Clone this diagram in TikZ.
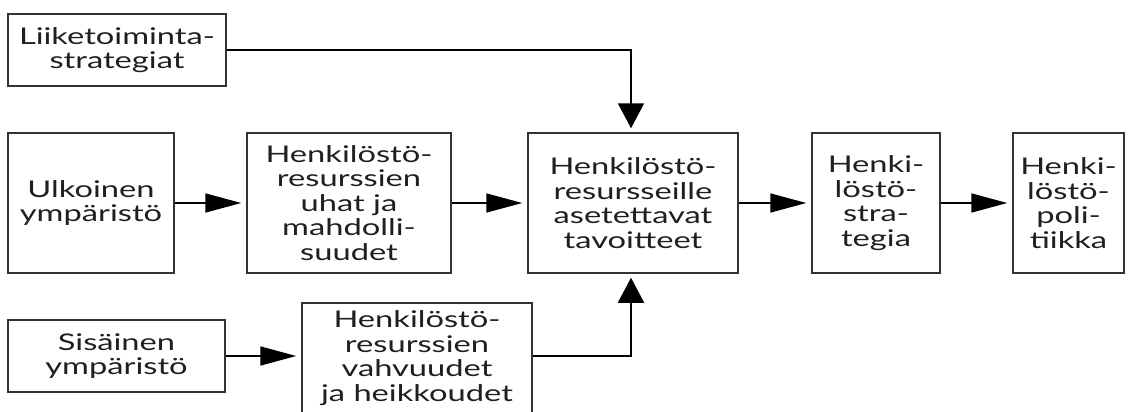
\documentclass[tikz,border=0pt]{standalone}
\usepackage{fontspec}
\usetikzlibrary{arrows.meta}
\newfontfamily\dfont[FakeStretch=1.42]{Lato}
\definecolor{boxline}{gray}{0.2}
\definecolor{txt}{gray}{0.12}
\tikzset{
  box/.style={draw=boxline, line width=1.5pt, inner sep=0pt, align=center,
    text=txt, font=\dfont\fontsize{23}{24.6}\selectfont},
  harrow/.style={draw=black, line width=1.6pt, -{Triangle[length=36pt,width=19pt]}, shorten >=5pt},
  varrow/.style={draw=black, line width=1.9pt, -{Triangle[length=25pt,width=26pt]}, shorten >=4pt},
}
\begin{document}
\begin{tikzpicture}[x=1pt,y=-1pt]
\useasboundingbox (0,0) rectangle (1129,412);
\fill[white] (0,0) rectangle (1129,412);
\node[box, minimum width=218pt, minimum height=72pt] (liik) at (117,50) {Liiketoiminta-\\strategiat};
\node[box, minimum width=166pt, minimum height=140pt] (ulk) at (91,203) {Ulkoinen\\ympäristö};
\node[box, minimum width=204pt, minimum height=140pt] (uhat) at (349,203) {Henkilöstö-\\resurssien\\uhat ja\\mahdolli-\\suudet};
\node[box, minimum width=210pt, minimum height=140pt] (keski) at (633,203) {Henkilöstö-\\resursseille\\asetettavat\\tavoitteet};
\node[box, minimum width=128pt, minimum height=140pt] (strat) at (876,203) {Henki-\\löstö-\\stra-\\tegia};
\node[box, minimum width=111pt, minimum height=140pt] (pol) at (1068.5,203) {Henki-\\löstö-\\poli-\\tiikka};
\node[box, minimum width=217pt, minimum height=72pt] (sis) at (116.5,356) {Sisäinen\\ympäristö};
\node[box, minimum width=230pt, inner ysep=8pt, anchor=north] (vah) at (417,302) {Henkilöstö-\\resurssien\\vahvuudet\\ja heikkoudet\rule[-45pt]{0pt}{1pt}};
\coordinate (topc) at (631,50);
\coordinate (botc) at (631,356);
\draw[harrow] (ulk.east) -- (uhat.west);
\draw[harrow] (uhat.east) -- (keski.west);
\draw[harrow] (keski.east) -- (strat.west);
\draw[harrow] (strat.east) -- (pol.west);
\draw[harrow] (sis.east) -- (sis.east -| vah.west);
\draw[varrow] (liik.east |- topc) -- (topc) -- (topc |- keski.north);
\draw[varrow] (botc -| vah.east) -- (botc) -- (botc |- keski.south);
\end{tikzpicture}
\end{document}
